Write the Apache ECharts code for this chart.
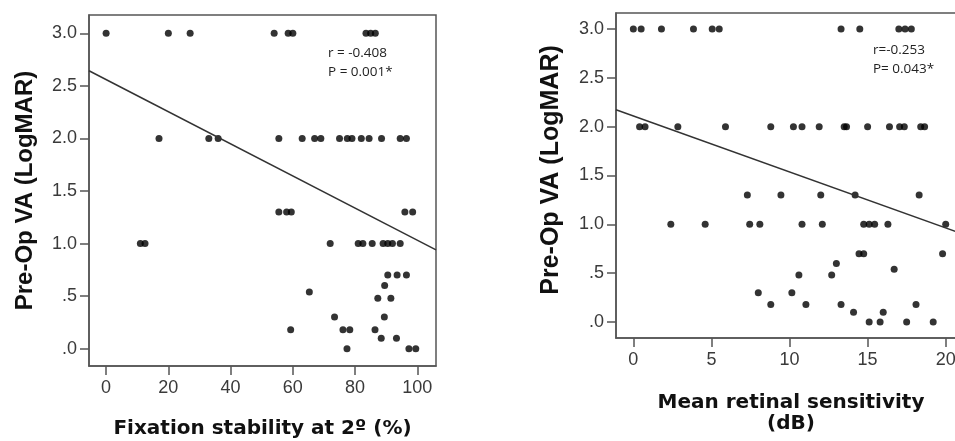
<!DOCTYPE html>
<html>
<head>
<meta charset="utf-8">
<script src="https://cdn.jsdelivr.net/npm/echarts@6/dist/echarts.min.js"></script>
<style>html,body{margin:0;padding:0;background:#fff}#c{width:955px;height:441px}</style>
</head>
<body>
<div id="c"></div>
<script>
// Left panel: fixation stability (%) vs Pre-Op VA (LogMAR)
const fixationPoints = [
  [0,3],[20,3],[27,3],[54,3],[58.5,3],[60,3],[83.5,3],[85,3],[86.5,3],
  [17,2],[33,2],[36,2],[55.5,2],[63,2],[67,2],[69,2],[75,2],[77.5,2],[79,2],[82,2],[84.5,2],[88.5,2],[94.5,2],[96.5,2],
  [55.5,1.3],[58,1.3],[59.5,1.3],[96,1.3],[98.5,1.3],
  [11,1],[12.5,1],[72,1],[81,1],[82.5,1],[85.5,1],[89,1],[90.5,1],[92,1],[94.5,1],
  [90.5,0.7],[93.5,0.7],[96.5,0.7],
  [89.5,0.6],
  [65.3,0.54],
  [87.3,0.48],[91.5,0.48],
  [73.4,0.3],[89.4,0.3],
  [59.3,0.18],[76.1,0.18],[78.3,0.18],[86.4,0.18],
  [88.4,0.1],[93.3,0.1],
  [77.4,0],[97.3,0],[99.5,0]
];
const fixationFit = [[-5.5,2.644],[106,0.94]];
// Right panel: mean retinal sensitivity (dB) vs Pre-Op VA (LogMAR)
const sensitivityPoints = [
  [0,3],[0.5,3],[1.8,3],[3.85,3],[5.05,3],[5.5,3],[13.3,3],[14.5,3],[17.0,3],[17.4,3],[17.8,3],
  [0.4,2],[0.75,2],[2.85,2],[5.9,2],[8.8,2],[10.25,2],[10.8,2],[11.9,2],[13.5,2],[13.65,2],[15.0,2],[16.4,2],[17.05,2],[17.35,2],[18.4,2],[18.65,2],
  [7.3,1.3],[9.45,1.3],[12.0,1.3],[14.2,1.3],[18.3,1.3],
  [2.4,1],[4.6,1],[7.45,1],[8.1,1],[10.8,1],[12.1,1],[14.75,1],[15.1,1],[15.45,1],[16.3,1],[20.0,1],
  [14.45,0.7],[14.75,0.7],[19.8,0.7],
  [13.0,0.6],
  [16.7,0.54],
  [10.6,0.48],[12.7,0.48],
  [8.0,0.3],[10.15,0.3],
  [8.8,0.18],[11.05,0.18],[13.3,0.18],[18.1,0.18],
  [14.1,0.1],[16.0,0.1],
  [15.1,0],[15.8,0],[17.5,0],[19.2,0]
];
const sensitivityFit = [[-1.11,2.174],[21.3,0.888]];
const yTicks = [0,0.5,1,1.5,2,2.5,3];
const xTicksLeft = [0,20,40,60,80,100];
const xTicksRight = [0,5,10,15,20];
const leftStats = ['r = -0.408','P = 0.001*'];
const rightStats = ['r=-0.253','P= 0.043*'];

const yFmt = v => { const s = v.toFixed(1); return s.startsWith('0') ? s.slice(1) : s; };
const labelFont = {fontFamily:'Liberation Sans, Arial, sans-serif', fontSize:18, color:'#3a3a3a'};
const axisLineStyle = {color:'#555', width:1.5};

function xAxis(idx, min, max, ticks, name, gap) {
  return {
    type:'value', gridIndex:idx, min:min, max:max,
    axisLine:{show:true, onZero:false, lineStyle:axisLineStyle},
    axisTick:{show:true, length:9, customValues:ticks, lineStyle:axisLineStyle},
    axisLabel:Object.assign({margin:13, customValues:ticks}, labelFont),
    splitLine:{show:false},
    name:name, nameLocation:'middle', nameGap:gap,
    nameTextStyle:{fontFamily:'DejaVu Sans', fontWeight:'bold', fontSize:20, color:'#111', lineHeight:21}
  };
}
function yAxis(idx, min, max, fs, pad) {
  return {
    type:'value', gridIndex:idx, min:min, max:max,
    axisLine:{show:true, onZero:false, lineStyle:axisLineStyle},
    axisTick:{show:true, length:9, customValues:yTicks, lineStyle:axisLineStyle},
    axisLabel:Object.assign({margin:12, customValues:yTicks, formatter:yFmt}, labelFont),
    splitLine:{show:false},
    name:'Pre-Op VA (LogMAR)', nameLocation:'middle', nameGap:52,
    nameTextStyle:{fontFamily:'Liberation Sans, Arial', fontWeight:'bold', fontSize:fs, color:'#111', padding:pad}
  };
}

const chart = echarts.init(document.getElementById('c'), null, {renderer:'canvas'});
chart.setOption({
  animation:false,
  backgroundColor:'#fff',
  grid:[
    {left:89, top:15, width:347, height:351, show:true, borderColor:'#555', borderWidth:1.5, outerBoundsMode:'none', containLabel:false},
    {left:616, top:13, width:350, height:325, show:true, borderColor:'#555', borderWidth:1.5, outerBoundsMode:'none', containLabel:false}
  ],
  xAxis:[
    xAxis(0, -5.5, 106, xTicksLeft, 'Fixation stability at 2º (%)', 52),
    xAxis(1, -1.11, 21.3, xTicksRight, 'Mean retinal sensitivity\n(dB)', 54)
  ],
  yAxis:[
    yAxis(0, -0.165, 3.174, 24, [0,0,0,0]),
    yAxis(1, -0.164, 3.164, 25, [0,0,0,11])
  ],
  series:[
    {type:'scatter', xAxisIndex:0, yAxisIndex:0, data:fixationPoints, symbol:'circle', symbolSize:7, itemStyle:{color:'#000'}},
    {type:'line', xAxisIndex:0, yAxisIndex:0, data:fixationFit, symbol:'none', lineStyle:{color:'#333', width:1.5}},
    {type:'scatter', xAxisIndex:1, yAxisIndex:1, data:sensitivityPoints, symbol:'circle', symbolSize:7, itemStyle:{color:'#000'}},
    {type:'line', xAxisIndex:1, yAxisIndex:1, data:sensitivityFit, symbol:'none', lineStyle:{color:'#333', width:1.5}}
  ],
  graphic:[
    {type:'text', left:328, top:44, style:{text:leftStats.join('\n'), font:'13.5px "Open Sans"', fill:'#222', align:'center', lineHeight:19, x:31}},
    {type:'text', left:873, top:41, style:{text:rightStats.join('\n'), font:'13.5px "Open Sans"', fill:'#222', lineHeight:19}}
  ]
});
</script>
</body>
</html>
